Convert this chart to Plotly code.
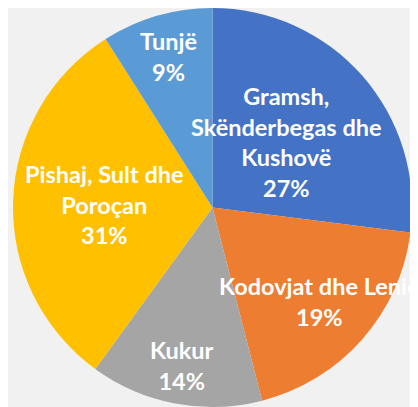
import math
import plotly.graph_objects as go

labels = ["Gramsh,<br>Skënderbegas dhe<br>Kushovë", "Kodovjat dhe Lenie", "Kukur",
          "Pishaj, Sult dhe<br>Poroçan", "Tunjë"]
values = [27, 19, 14, 31, 9]
colors = ["#4472C4", "#ED7D31", "#A5A5A5", "#FFC000", "#5B9BD5"]
# radial position of each label (fraction of radius), Excel-like "best fit"
label_r = [0.49, 0.71, 0.80, 0.54, 0.78]

W, H = 418, 407
OFF = 8  # page body margin
cx, cy, R = 212.5 - OFF, 207.5 - OFF, 199.5  # figure pixels (top-down)

fig = go.Figure(go.Pie(
    labels=labels, values=values, sort=False, direction="clockwise", rotation=0,
    marker=dict(colors=colors, line=dict(width=0)),
    textinfo="none", hoverinfo="label+percent", showlegend=False,
    domain=dict(x=[max(0, (cx - R) / W), (cx + R) / W],
                y=[max(0, (H - cy - R) / H), min(1, (H - cy + R) / H)]),
))

total = sum(values)
cum = 0
for lab, v, rf in zip(labels, values, label_r):
    mid = (cum + v / 2) / total * 2 * math.pi
    cum += v
    px = cx + rf * 201 * math.sin(mid)
    py = cy - rf * 201 * math.cos(mid)
    pct = round(v / total * 100)
    fig.add_annotation(
        x=px / W, y=1 - py / H, xref="paper", yref="paper",
        text=f"<b>{lab}<br>{pct}%</b>", showarrow=False,
        font=dict(family="Lato, 'Open Sans', sans-serif", size=23.5, color="white"),
        align="center", xanchor="center", yanchor="middle",
    )

fig.update_layout(
    width=W, height=H, margin=dict(l=0, r=0, t=0, b=0),
    paper_bgcolor="#f1f1f1", plot_bgcolor="#f1f1f1",
)
fig.write_html("out.html")
